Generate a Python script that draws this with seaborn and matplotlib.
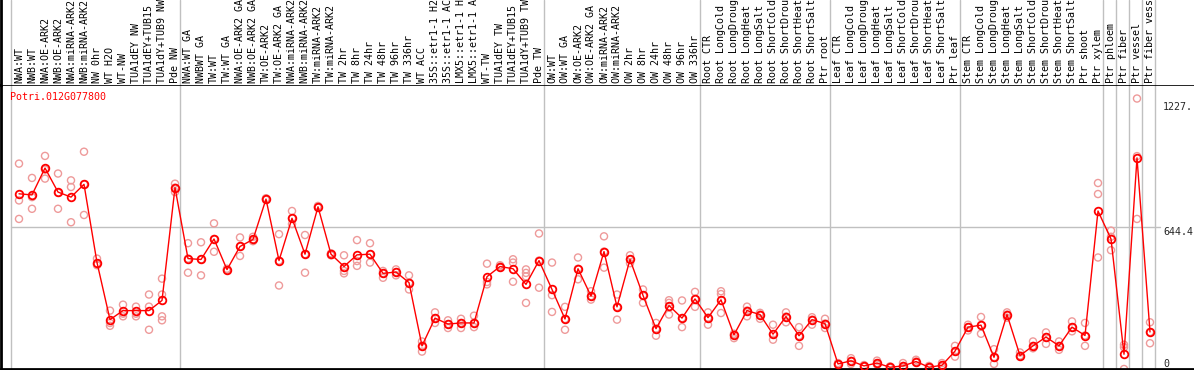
import matplotlib
matplotlib.use("Agg")
import matplotlib.pyplot as plt
import matplotlib.transforms as mtransforms
import pandas as pd
import seaborn as sns

gene = "Potri.012G077800"

labels = [
    "NWA:WT", "NWB:WT", "NWA:OE-ARK2", "NWB:OE-ARK2", "NWA:miRNA-ARK2", "NWB:miRNA-ARK2",
    "NW 0hr", "WT H2O", "WT-NW", "TUA1dEY NW", "TUA1dEY+TUB15 NW", "TUA1dY+TUB9 NW", "Pde NW",
    "NWA:WT GA", "NWBWT GA", "TW:WT", "TW:WT GA", "NWA:OE-ARK2 GA", "NWB:OE-ARK2 GA",
    "TW:OE-ARK2", "TW:OE-ARK2 GA", "NWA:miRNA-ARK2 GA", "NWB:miRNA-ARK2 GA", "TW:miRNA-ARK2",
    "TW:miRNA-ARK2 GA", "TW 2hr", "TW 8hr", "TW 24hr", "TW 48hr", "TW 96hr", "TW 336hr",
    "WT ACC", "35S::etr1-1 H2O", "35S::etr1-1 ACC", "LMX5::etr1-1 H2O", "LMX5::etr1-1 ACC",
    "WT-TW", "TUA1dEY TW", "TUA1dEY+TUB15 TW", "TUA1dY+TUB9 TW", "Pde TW",
    "OW:WT", "OW:WT GA", "OW:OE-ARK2", "OW:OE-ARK2 GA", "OW:miRNA-ARK2", "OW:miRNA-ARK2 GA",
    "OW 2hr", "OW 8hr", "OW 24hr", "OW 48hr", "OW 96hr", "OW 336hr",
    "Root CTR", "Root LongCold", "Root LongDrought", "Root LongHeat", "Root LongSalt",
    "Root ShortCold", "Root ShortDrought", "Root ShortHeat", "Root ShortSalt", "Ptr root",
    "Leaf CTR", "Leaf LongCold", "Leaf LongDrought", "Leaf LongHeat", "Leaf LongSalt",
    "Leaf ShortCold", "Leaf ShortDrought", "Leaf ShortHeat", "Leaf ShortSalt", "Ptr leaf",
    "Stem CTR", "Stem LongCold", "Stem LongDrought", "Stem LongHeat", "Stem LongSalt",
    "Stem ShortCold", "Stem ShortDrought", "Stem ShortHeat", "Stem ShortSalt", "Ptr shoot",
    "Ptr xylem", "Ptr phloem", "Ptr fiber", "Ptr vessel", "Ptr fiber vessel",
]

means = [
    795, 790, 912, 803, 780, 838, 483, 224, 265, 265, 265, 311, 823,
    501, 497, 590, 451, 556, 588, 771, 492, 684, 521, 736, 521, 465, 518, 521,
    434, 440, 392, 105, 231, 204, 209, 209, 419, 465, 455, 384, 492,
    361, 227, 455, 331, 533, 282, 497, 334, 183, 288, 231, 318,
    233, 314, 155, 265, 247, 158, 238, 151, 224, 206,
    23, 37, 14, 27, 8, 14, 34, 8, 17, 81,
    190, 199, 53, 247, 61, 105, 145, 105, 190, 152, 717,
    590, 67, 958, 168,
]

reps = [
    [932, 765, 681], [867, 780, 727], [967, 905, 864], [887, 800, 727], [856, 826, 666],
    [986, 838, 699], [501, 471, 478], [265, 209, 196], [292, 251, 239], [283, 251, 239],
    [338, 283, 178], [410, 338, 239, 221], [841, 803, 823],
    [571, 437, 501], [575, 425, 497], [661, 532, 590], [451, 448, 455], [597, 513, 556],
    [600, 588, 580], [771, 768, 775], [612, 379, 492], [717, 658, 684], [608, 437, 521],
    [736, 740, 732], [516, 521, 525], [516, 445, 434], [585, 490, 468], [571, 483, 521],
    [445, 414, 434], [452, 425, 440], [425, 361, 392], [125, 79, 105], [257, 209, 231],
    [221, 186, 204], [228, 186, 209], [242, 190, 209], [478, 384, 395], [471, 465, 460],
    [498, 483, 396], [452, 436, 420, 300], [615, 369, 492],
    [483, 335, 259], [282, 178, 227], [506, 407, 455], [353, 315, 331], [602, 460, 533],
    [338, 224, 282], [516, 497, 480], [361, 300, 334], [209, 151, 183], [312, 247, 300],
    [311, 190, 231], [350, 282, 318],
    [257, 201, 233], [353, 254, 340], [140, 155, 160], [283, 239, 265], [228, 247, 255],
    [201, 133, 158], [257, 212, 238], [190, 105, 151], [235, 201, 224], [228, 186, 206],
    [20, 23, 27], [49, 23, 37], [14, 10, 18], [38, 27, 20], [5, 8, 12],
    [27, 14, 5], [42, 34, 30], [14, 8, 4], [27, 17, 10], [105, 56, 81],
    [201, 175, 190], [236, 160, 199], [90, 23, 53], [257, 233, 247], [75, 56, 61],
    [125, 94, 105], [166, 114, 145], [125, 87, 105], [216, 171, 190], [209, 105, 152],
    [844, 794, 506],
    [628, 539, 600], [110, 99, 0], [1227.4, 681, 966], [212, 117, 168],
]

# first index of each block of samples (last entry = end)
group_starts = [0, 13, 41, 53, 63, 73, 84, 85, 86, 87, 88]

pos = list(range(len(labels)))
mean_df = pd.DataFrame({"pos": pos, "value": means})
rep_df = pd.DataFrame(
    [(i, v) for i, vals in enumerate(reps) for v in vals], columns=["pos", "value"]
)

sns.set_style("white")
plt.rcParams["font.family"] = ["DejaVu Sans Mono"]

W, H = 1194, 370
top_px, bot_px = 85, 369
fig = plt.figure(figsize=(W / 100, H / 100), dpi=100)
ax = fig.add_axes([1 / W, 1 - bot_px / H, 1 - 1 / W, (bot_px - top_px) / H])
axh = fig.add_axes([1 / W, 1 - top_px / H, 1 - 1 / W, top_px / H])

xlim = (-18 / 13, 1175 / 13)
max_val = max(max(r) for r in reps)
ymax = max_val * 1.05
grid_c = "#c0c0c0"

for a in (ax, axh):
    a.set_xlim(xlim)
    a.set_xticks([])
    a.set_yticks([])
    for b in group_starts:
        a.axvline(b - 0.62, color=grid_c, lw=1, zorder=0)
    a.spines["right"].set_visible(False)
    a.spines["left"].set_color("black")
    a.spines["left"].set_linewidth(2)

ax.set_ylim(0, ymax)
ax.spines["top"].set_color("black")
ax.spines["top"].set_linewidth(1.2)
ax.spines["bottom"].set_color("black")
ax.spines["bottom"].set_linewidth(2)
axh.spines["top"].set_visible(False)
axh.spines["bottom"].set_visible(False)
axh.set_ylim(0, top_px)

# horizontal mid line
ax.plot([-0.62, 87.77], [ymax / 2, ymax / 2], color=grid_c, lw=1, zorder=0)

sns.scatterplot(data=rep_df, x="pos", y="value", ax=ax, marker="o", s=26,
                facecolor="none", edgecolor="#ee9a9a", linewidth=1.0, zorder=2)
sns.lineplot(data=mean_df, x="pos", y="value", ax=ax, color="red", lw=1,
             marker="o", markersize=5.5, markerfacecolor="none",
             markeredgecolor="red", markeredgewidth=1.3, zorder=3)
ax.set_xlabel("")
ax.set_ylabel("")

for i, lab in enumerate(labels):
    axh.text(i, 2, lab, rotation=90, ha="center", va="bottom", fontsize=7.2,
             color="black")

fig.text(10 / W, 1 - 97 / H, gene, color="red", ha="left", va="center", fontsize=7.2)

tr = mtransforms.blended_transform_factory(fig.transFigure, ax.transData)
down = mtransforms.offset_copy(tr, fig=fig, x=0, y=-3, units="dots")
ax.text(1163 / W, max_val, f"{max_val:.1f}"[:5], transform=down, ha="left", va="top",
        fontsize=7.2)
ax.text(1163 / W, ymax / 2, f"{ymax / 2:.1f}", transform=tr, ha="left", va="top",
        fontsize=7.2)
ax.text(1163 / W, 0, "0", transform=tr, ha="left", va="bottom", fontsize=7.2)

fig.savefig("out.png", dpi=100)
